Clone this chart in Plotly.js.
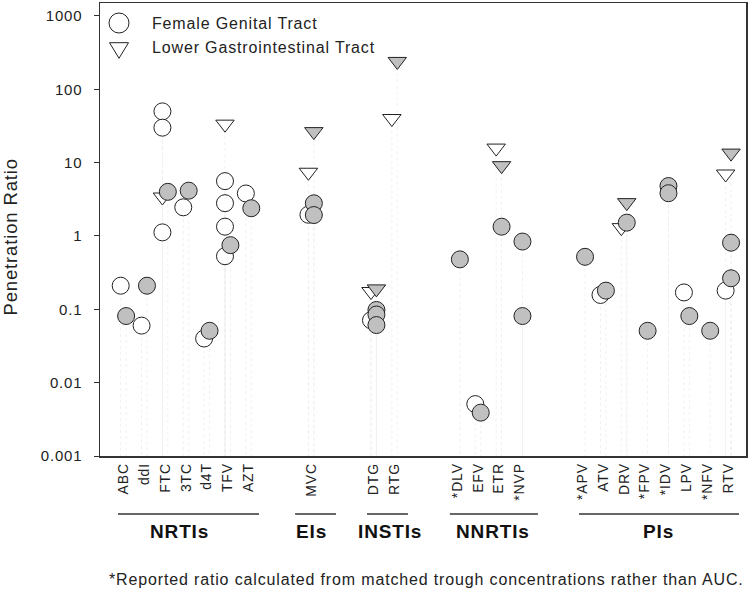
<!DOCTYPE html>
<html>
<head>
<meta charset="utf-8">
<script src="https://cdn.plot.ly/plotly-3.0.1.min.js"></script>
<style>
  html, body { margin: 0; padding: 0; background: #fff; }
  text { letter-spacing: 0.85px; }
</style>
</head>
<body>
<div id="chart" style="width:750px;height:589px;"></div>
<script>
// ---- Data ----
const drugs = ['ABC','ddI','FTC','3TC','d4T','TFV','AZT','MVC','DTG','RTG','*DLV','EFV','ETR','*NVP','*APV','ATV','DRV','*FPV','*IDV','LPV','*NFV','RTV'];

// Female genital tract (open circles)
const fgtDrug  = ['ABC','ddI','FTC','FTC','FTC','3TC','d4T','TFV','TFV','TFV','TFV','AZT','MVC','DTG','EFV','ATV','LPV','RTV'];
const fgtRatio = [0.21, 0.06, 50, 30, 1.12, 2.46, 0.040, 5.6, 2.8, 1.34, 0.53, 3.8, 1.95, 0.071, 0.0051, 0.157, 0.17, 0.18];

// Female genital tract, grey symbols
const fgtGreyDrug  = ['ABC','ddI','FTC','3TC','d4T','TFV','AZT','MVC','MVC','DTG','DTG','DTG','*DLV','EFV','ETR','*NVP','*NVP','*APV','ATV','DRV','*FPV','*IDV','*IDV','LPV','*NFV','RTV','RTV'];
const fgtGreyRatio = [0.081, 0.21, 4.0, 4.15, 0.051, 0.75, 2.39, 2.79, 1.93, 0.098, 0.085, 0.061, 0.48, 0.0039, 1.34, 0.84, 0.081, 0.52, 0.18, 1.52, 0.051, 4.8, 3.83, 0.081, 0.051, 0.81, 0.265];

// Lower gastrointestinal tract (open triangles)
const lgiDrug  = ['FTC','TFV','MVC','DTG','RTG','ETR','DRV','RTV'];
const lgiRatio = [3.4, 33.5, 7.4, 0.175, 40, 15.8, 1.3, 7.0];

// Lower gastrointestinal tract, grey symbols
const lgiGreyDrug  = ['MVC','DTG','RTG','ETR','DRV','RTV'];
const lgiGreyRatio = [26.5, 0.19, 240, 9.1, 2.85, 13.5];

const yTickVals = [0.001, 0.01, 0.1, 1, 10, 100, 1000];
const yTickText = ['0.001', '0.01', '0.1', '1', '10', '100', '1000'];

const groupNames = ['NRTIs', 'EIs', 'INSTIs', 'NNRTIs', 'PIs'];
const legendNames = ['Female Genital Tract', 'Lower Gastrointestinal Tract'];
const footnote = '*Reported ratio calculated from matched trough concentrations rather than AUC.';

// ---- Layout helpers (positions) ----
const drugSlot = [0,1,2,3,4,5,6,9,12,13,16,17,18,19,22,23,24,25,26,27,28,29];
const groupLineStart = [-0.26, 8.23, 11.68, 15.65, 21.84];
const groupLineEnd   = [6.5, 10.19, 13.64, 19.87, 29.51];
const groupLabelX    = [2.67, 9.0, 12.78, 17.72, 25.63];

const slotOf = d => drugSlot[drugs.indexOf(d)];
const OPEN_OFF = -0.13, GREY_OFF = 0.13;

const W = 750, H = 589;
const L = 100, R = 746, T = 3, B = 456;
const xp = px => (px - L) / (R - L);
const yp = py => (B - py) / (B - T);

const FONT = 'Liberation Sans, Arial, sans-serif';
const GREY = '#c0c0c0';
const INK = '#222';

// drop lines
const dropX = [], dropY = [];
function addDrops(ds, vs, off) {
  ds.forEach((d, i) => { const x = slotOf(d) + off; dropX.push(x, x, null); dropY.push(vs[i], 0.001, null); });
}
addDrops(fgtDrug, fgtRatio, OPEN_OFF);
addDrops(fgtGreyDrug, fgtGreyRatio, GREY_OFF);
addDrops(lgiDrug, lgiRatio, OPEN_OFF);
addDrops(lgiGreyDrug, lgiGreyRatio, GREY_OFF);

const traces = [
  { x: dropX, y: dropY, mode: 'lines', hoverinfo: 'skip', showlegend: false,
    line: { color: '#f0f0f0', width: 1, dash: 'dot' } },
  { name: legendNames[0], x: fgtDrug.map(d => slotOf(d) + OPEN_OFF), y: fgtRatio, mode: 'markers', showlegend: false,
    marker: { symbol: 'circle', size: 17, color: '#ffffff', line: { color: INK, width: 1 } } },
  { name: legendNames[1], x: lgiDrug.map(d => slotOf(d) + OPEN_OFF), y: lgiRatio, mode: 'markers', showlegend: false,
    marker: { symbol: 'triangle-down', size: 16, color: '#ffffff', line: { color: INK, width: 1 } } },
  { name: legendNames[1] + ' (grey)', x: lgiGreyDrug.map(d => slotOf(d) + GREY_OFF), y: lgiGreyRatio, mode: 'markers', showlegend: false,
    marker: { symbol: 'triangle-down', size: 16, color: GREY, line: { color: INK, width: 1 } } },
  { name: legendNames[0] + ' (grey)', x: fgtGreyDrug.map(d => slotOf(d) + GREY_OFF), y: fgtGreyRatio, mode: 'markers', showlegend: false,
    marker: { symbol: 'circle', size: 17, color: GREY, line: { color: INK, width: 1 } } }
];

const shapes = [
  { type: 'line', xref: 'paper', yref: 'y', x0: 0, x1: 1, y0: 0, y1: 0, layer: 'below',
    line: { color: '#000', width: 1.5 } },
  // legend symbols
  { type: 'circle', xref: 'paper', yref: 'paper',
    x0: xp(119 - 10), x1: xp(119 + 10), y0: yp(23 + 10), y1: yp(23 - 10),
    line: { color: INK, width: 1 }, fillcolor: '#fff' },
  { type: 'path', xref: 'paper', yref: 'paper',
    path: `M ${xp(109.5)},${yp(42.7)} L ${xp(128.5)},${yp(42.7)} L ${xp(119)},${yp(58.3)} Z`,
    line: { color: INK, width: 1 }, fillcolor: '#fff' }
];
groupNames.forEach((g, i) => {
  shapes.push({ type: 'line', xref: 'x', yref: 'paper', x0: groupLineStart[i], x1: groupLineEnd[i],
    y0: yp(514), y1: yp(514), line: { color: '#333', width: 1.5 } });
});

const annotations = [
  { xref: 'paper', yref: 'paper', x: xp(150), y: yp(23), xanchor: 'left', yanchor: 'middle', showarrow: false,
    text: legendNames[0], font: { family: FONT, size: 16, color: INK } },
  { xref: 'paper', yref: 'paper', x: xp(150), y: yp(48), xanchor: 'left', yanchor: 'middle', showarrow: false,
    text: legendNames[1], font: { family: FONT, size: 16, color: INK } },
  { xref: 'paper', yref: 'paper', x: xp(107), y: yp(579), xanchor: 'left', yanchor: 'middle', showarrow: false,
    text: footnote, font: { family: FONT, size: 16, color: INK } },
  { xref: 'paper', yref: 'paper', x: xp(9.5), y: yp(237), xanchor: 'center', yanchor: 'middle', showarrow: false,
    textangle: -90, text: 'Penetration Ratio', font: { family: FONT, size: 18.5, color: INK } }
];
groupNames.forEach((g, i) => {
  annotations.push({ xref: 'x', yref: 'paper', x: groupLabelX[i], y: yp(531.7), xanchor: 'center', yanchor: 'middle',
    showarrow: false, text: '<b>' + g + '</b>', font: { family: FONT, size: 19, color: '#111' } });
});

const layout = {
  width: W, height: H,
  margin: { l: L, r: W - R, t: T, b: H - B, pad: 0 },
  paper_bgcolor: '#fff', plot_bgcolor: '#fff',
  showlegend: false,
  font: { family: FONT, color: INK },
  xaxis: {
    range: [(L - 123.4) / 20.86, (R - 123.4) / 20.86],
    tickvals: drugSlot, ticktext: drugs, tickangle: -90,
    ticks: '', showgrid: false, zeroline: false,
    showline: true, mirror: true, linecolor: '#333', linewidth: 1.5,
    tickfont: { family: FONT, size: 14, color: INK }
  },
  yaxis: {
    type: 'log', range: [-3, 3.177],
    tickvals: yTickVals, ticktext: yTickText,
    ticks: 'outside', ticklen: 5, tickwidth: 1, tickcolor: '#333',
    ticklabelstandoff: 8,
    showgrid: false, zeroline: false,
    showline: true, mirror: true, linecolor: '#333', linewidth: 1.5,
    tickfont: { family: FONT, size: 15, color: INK }
  },
  shapes: shapes,
  annotations: annotations
};

Plotly.newPlot('chart', traces, layout, { displayModeBar: false, staticPlot: true });
</script>
</body>
</html>
